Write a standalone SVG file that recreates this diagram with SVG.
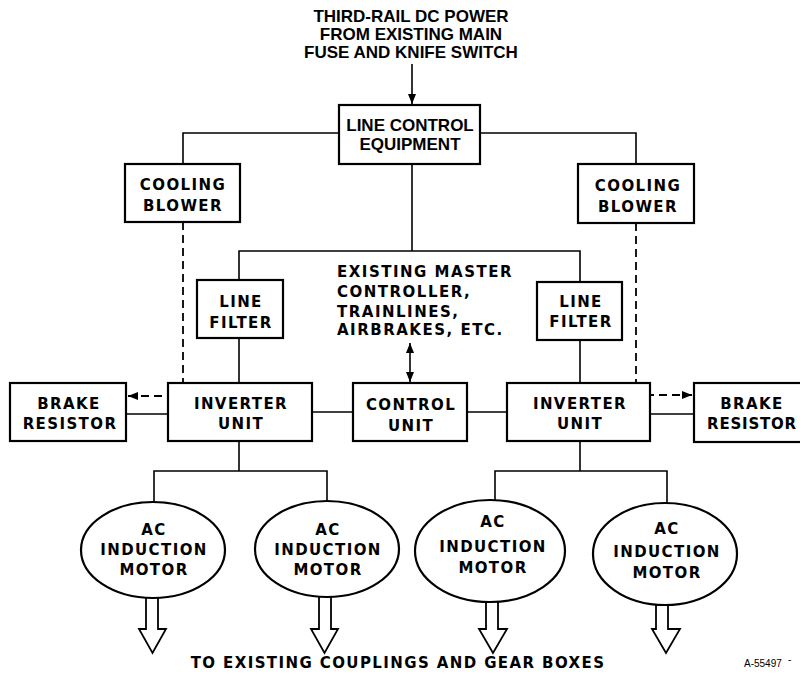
<svg xmlns="http://www.w3.org/2000/svg" width="800" height="678" viewBox="0 0 800 678">
<defs>
<style>
.bx{fill:#fff;stroke:#000;stroke-width:2.2}
.ln{fill:none;stroke:#000;stroke-width:1.6}
.ds{fill:none;stroke:#000;stroke-width:1.8;stroke-dasharray:8 5}
.t{font-family:"Liberation Sans",Arial,sans-serif;font-weight:bold;font-size:17px;fill:#000;text-anchor:middle}
.b{font-family:"DejaVu Sans","Liberation Sans",sans-serif;font-weight:bold;font-size:15px;letter-spacing:1.4px;fill:#000;text-anchor:middle}
.l{font-family:"DejaVu Sans","Liberation Sans",sans-serif;font-weight:bold;font-size:15px;letter-spacing:1.5px;fill:#000}
.s{font-family:"Liberation Sans",Arial,sans-serif;font-size:10px;fill:#000}
.sh{fill:#fff;stroke:#000;stroke-width:1.8;stroke-linejoin:miter}
</style>
<marker id="ah" viewBox="0 0 10 8" refX="10" refY="4" markerWidth="10" markerHeight="8" markerUnits="userSpaceOnUse" orient="auto-start-reverse">
<path d="M0,0 L10,4 L0,8 Z" fill="#000"/>
</marker>
</defs>
<rect width="800" height="678" fill="#fff"/>

<g id="connectors">
<path class="ln" d="M412,64 V104" marker-end="url(#ah)"/>
<path class="ln" d="M339,133 H183 V164"/>
<path class="ln" d="M480,133 H636 V164"/>
<path class="ln" d="M412,164 V251"/>
<path class="ln" d="M239,280 V251 H580 V282"/>
<path class="ln" d="M239,338 V383"/>
<path class="ln" d="M580,340 V383"/>
<path class="ln" d="M410,343 V382" marker-start="url(#ah)" marker-end="url(#ah)"/>
<path class="ln" d="M126,414 H168"/>
<path class="ln" d="M650,414 H693"/>
<path class="ln" d="M312,412 H353"/>
<path class="ln" d="M467,412 H507"/>
<path class="ds" d="M183,222 V396 H128" marker-end="url(#ah)"/>
<path class="ds" d="M636,223 V395 H692" marker-end="url(#ah)"/>
<path class="ln" d="M239,441 V471"/>
<path class="ln" d="M154,502 V471 H327 V501"/>
<path class="ln" d="M580,441 V471"/>
<path class="ln" d="M495,500 V471 H667 V503"/>
<path class="sh" d="M146,597 V629 H139 L152.5,653 L166,629 H158 V597"/>
<path class="sh" d="M319,596 V629 H311 L324.5,653 L338,629 H331 V596"/>
<path class="sh" d="M486,601 V629 H479 L493,653 L507,629 H498 V601"/>
<path class="sh" d="M656,604 V629 H652 L666,653 L680,629 H668 V604"/>
</g>

<g id="title">
<text class="t" x="411" y="22">THIRD-RAIL DC POWER</text>
<text class="t" x="411" y="40">FROM EXISTING MAIN</text>
<text class="t" x="411" y="58">FUSE AND KNIFE SWITCH</text>
</g>

<g id="line-control">
<rect class="bx" x="339" y="105" width="141" height="59"/>
<text class="t" x="410" y="131">LINE CONTROL</text>
<text class="t" x="410" y="150">EQUIPMENT</text>
</g>

<g id="cooling-left">
<rect class="bx" x="125" y="164" width="115" height="58"/>
<text class="b" x="183" y="190">COOLING</text>
<text class="b" x="183" y="211">BLOWER</text>
</g>

<g id="cooling-right">
<rect class="bx" x="578" y="164" width="116" height="59"/>
<text class="b" x="638" y="191">COOLING</text>
<text class="b" x="638" y="212">BLOWER</text>
</g>

<g id="master-controller">
<text class="l" x="337" y="277">EXISTING MASTER</text>
<text class="l" x="337" y="297">CONTROLLER,</text>
<text class="l" x="337" y="317">TRAINLINES,</text>
<text class="l" x="337" y="335">AIRBRAKES, ETC.</text>
</g>

<g id="line-filter-left">
<rect class="bx" x="197" y="280" width="86" height="58"/>
<text class="b" x="241" y="307">LINE</text>
<text class="b" x="241" y="328">FILTER</text>
</g>

<g id="line-filter-right">
<rect class="bx" x="537" y="282" width="85" height="58"/>
<text class="b" x="581" y="307">LINE</text>
<text class="b" x="581" y="327">FILTER</text>
</g>

<g id="brake-left">
<rect class="bx" x="10" y="383" width="116" height="58"/>
<text class="b" x="69" y="409">BRAKE</text>
<text class="b" x="70" y="429">RESISTOR</text>
</g>

<g id="inverter-left">
<rect class="bx" x="168" y="383" width="144" height="58"/>
<text class="b" x="241" y="409">INVERTER</text>
<text class="b" x="241" y="429">UNIT</text>
</g>

<g id="control-unit">
<rect class="bx" x="353" y="383" width="114" height="58"/>
<text class="b" x="411" y="410">CONTROL</text>
<text class="b" x="411" y="431">UNIT</text>
</g>

<g id="inverter-right">
<rect class="bx" x="507" y="383" width="143" height="58"/>
<text class="b" x="580" y="409">INVERTER</text>
<text class="b" x="580" y="429">UNIT</text>
</g>

<g id="brake-right">
<rect class="bx" x="694" y="383" width="120" height="59"/>
<text class="b" x="752" y="409">BRAKE</text>
<text class="b" x="752" y="429" style="letter-spacing:0.8px">RESISTOR</text>
</g>

<g id="motor-1">
<ellipse class="bx" cx="153" cy="550" rx="72" ry="48"/>
<text class="b" x="154" y="535">AC</text>
<text class="b" x="154" y="555">INDUCTION</text>
<text class="b" x="154" y="575">MOTOR</text>
</g>

<g id="motor-2">
<ellipse class="bx" cx="327" cy="549" rx="72" ry="48"/>
<text class="b" x="328" y="535">AC</text>
<text class="b" x="328" y="555">INDUCTION</text>
<text class="b" x="328" y="575">MOTOR</text>
</g>

<g id="motor-3">
<ellipse class="bx" cx="490" cy="551" rx="75" ry="51"/>
<text class="b" x="493" y="527">AC</text>
<text class="b" x="493" y="552">INDUCTION</text>
<text class="b" x="493" y="573">MOTOR</text>
</g>

<g id="motor-4">
<ellipse class="bx" cx="665" cy="554" rx="72" ry="51"/>
<text class="b" x="667" y="534">AC</text>
<text class="b" x="667" y="557">INDUCTION</text>
<text class="b" x="667" y="578">MOTOR</text>
</g>

<g id="footer">
<text class="b" x="398" y="668">TO EXISTING COUPLINGS AND GEAR BOXES</text>
<text class="s" x="744" y="667">A-55497</text>
<text class="s" x="788" y="663">-</text>
</g>
</svg>
